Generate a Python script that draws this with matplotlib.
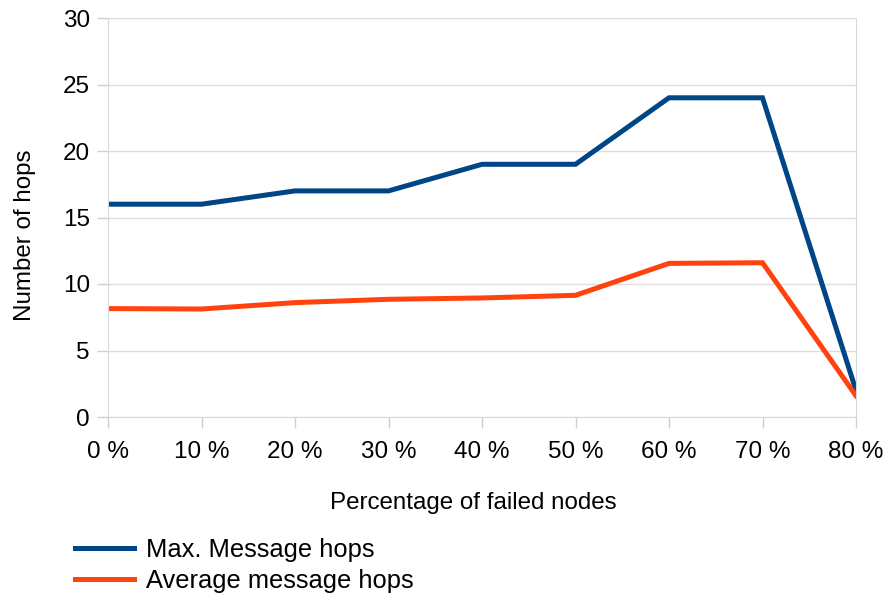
import matplotlib.pyplot as plt

plt.rcParams['font.family'] = ['Liberation Sans', 'DejaVu Sans']

# share of failed nodes and the hop counts measured for each
failed_pct = [0, 10, 20, 30, 40, 50, 60, 70, 80]
tick_labels = ['0 %', '10 %', '20 %', '30 %', '40 %', '50 %', '60 %', '70 %', '80 %']
max_hops = [16, 16, 17, 17, 19, 19, 24, 24, 2.0]
avg_hops = [8.15, 8.12, 8.6, 8.85, 8.95, 9.15, 11.55, 11.6, 1.6]

fig = plt.figure(figsize=(8.89, 5.97), dpi=100)
ax = fig.add_axes([108 / 889, 1 - 417 / 597, (856 - 108) / 889, (417 - 18) / 597])

ax.plot(failed_pct, max_hops, color='#004586', lw=3.6, label='Max. Message hops',
        solid_joinstyle='miter')
ax.plot(failed_pct, avg_hops, color='#ff420e', lw=3.6, label='Average message hops',
        solid_joinstyle='miter')

ax.set_xlim(0, 80)
ax.set_ylim(0, 30)
ax.set_xticks(failed_pct)
ax.set_xticklabels(tick_labels)
ax.set_yticks(range(0, 31, 5))
ax.tick_params(labelsize=17.5, color='#cfcfcf', length=8, width=1)
ax.tick_params(axis='x', pad=9)
ax.tick_params(axis='y', pad=5)
ax.yaxis.grid(True, color='#dddddd', lw=1)
ax.set_axisbelow(True)
for side in ax.spines:
    ax.spines[side].set_color('#d9d9d9')
ax.spines['top'].set_visible(False)

ax.set_xlabel('Percentage of failed nodes', fontsize=17.4, labelpad=21)
ax.set_ylabel('Number of hops', fontsize=17.4, labelpad=19)
ax.xaxis.label.set_x(0.488)
ax.yaxis.label.set_y(0.456)

fig.legend(loc='upper left', bbox_to_anchor=(65 / 889, 1 - 528 / 597), frameon=False,
           fontsize=18.4, handlelength=2.3, handletextpad=0.45, labelspacing=0.25,
           borderaxespad=0)

fig.savefig('out.png', dpi=100)
